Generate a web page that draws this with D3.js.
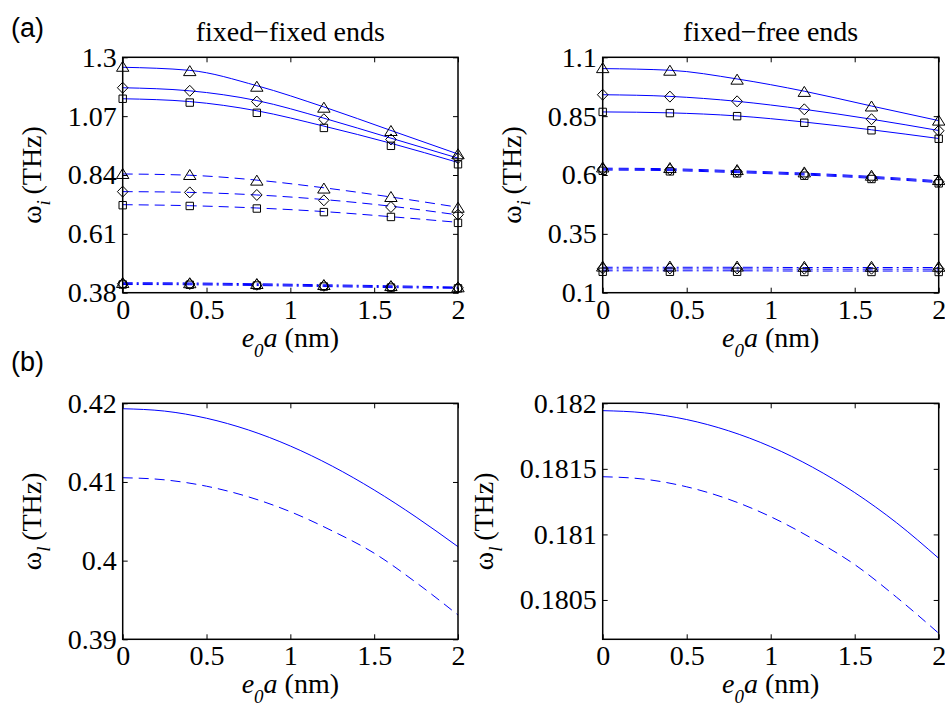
<!DOCTYPE html>
<html>
<head>
<meta charset="utf-8">
<script src="https://cdn.jsdelivr.net/npm/d3@7"></script>
<style>
  body { margin: 0; background: #fff; }
  text { font-family: "Liberation Serif", "Times New Roman", serif; }
</style>
</head>
<body>
<script>
    // x positions
    let xMarks = [0, 0.4, 0.8, 1.2, 1.6, 2];
    let xFine = [0, 0.25, 0.5, 0.75, 1, 1.25, 1.5, 1.75, 2];
    let xTicks = [0, 0.5, 1, 1.5, 2];
    let xTickLabels = ["0", "0.5", "1", "1.5", "2"];

    // (a) fixed-fixed: lines (theory) and markers (simulation)
    let ffSolidTri = [1.261, 1.249, 1.189, 1.106, 1.014, 0.922];
    let ffSolidDia = [1.181, 1.169, 1.131, 1.062, 0.984, 0.906];
    let ffSolidSq  = [1.138, 1.127, 1.091, 1.031, 0.964, 0.889];
    let ffDashTri  = [0.844, 0.839, 0.820, 0.790, 0.754, 0.714];
    let ffDashDia  = [0.775, 0.772, 0.762, 0.744, 0.718, 0.684];
    let ffDashSq   = [0.724, 0.720, 0.711, 0.697, 0.677, 0.655];
    let ffDotTri   = [0.419, 0.418, 0.415, 0.411, 0.407, 0.402];
    let ffDotDia   = [0.4155, 0.4145, 0.4115, 0.4075, 0.4035, 0.3995];
    let ffDotSq    = [0.412, 0.411, 0.408, 0.404, 0.400, 0.397];

    let ffMarkSolidTri = [1.263, 1.246, 1.185, 1.103, 1.012, 0.921];
    let ffMarkSolidDia = [1.181, 1.169, 1.127, 1.058, 0.979, 0.906];
    let ffMarkSolidSq  = [1.138, 1.123, 1.083, 1.024, 0.954, 0.882];
    let ffMarkDashTri  = [0.844, 0.840, 0.818, 0.787, 0.754, 0.712];
    let ffMarkDashDia  = [0.775, 0.772, 0.762, 0.741, 0.715, 0.685];
    let ffMarkDashSq   = [0.722, 0.719, 0.709, 0.695, 0.676, 0.653];
    let ffMarkDotTri   = [0.418, 0.417, 0.414, 0.410, 0.406, 0.401];
    let ffMarkDotDia   = [0.415, 0.414, 0.411, 0.407, 0.403, 0.399];
    let ffMarkDotSq    = [0.412, 0.411, 0.408, 0.404, 0.400, 0.397];

    let ffYTicks = [0.38, 0.61, 0.84, 1.07, 1.3];
    let ffYTickLabels = ["0.38", "0.61", "0.84", "1.07", "1.3"];

    // (a) fixed-free
    let frSolidTri = [1.052, 1.045, 1.008, 0.956, 0.893, 0.831];
    let frSolidDia = [0.941, 0.934, 0.913, 0.879, 0.837, 0.789];
    let frSolidSq  = [0.868, 0.864, 0.851, 0.825, 0.792, 0.755];
    let frDashTri  = [0.629, 0.6265, 0.618, 0.608, 0.594, 0.5755];
    let frDashDia  = [0.625, 0.6225, 0.614, 0.604, 0.590, 0.5715];
    let frDashSq   = [0.621, 0.6185, 0.610, 0.600, 0.586, 0.5675];
    let frDotTri   = [0.208, 0.208, 0.208, 0.207, 0.207, 0.207];
    let frDotDia   = [0.201, 0.201, 0.201, 0.200, 0.200, 0.200];
    let frDotSq    = [0.193, 0.193, 0.193, 0.192, 0.192, 0.192];

    let frMarkSolidTri = [1.054, 1.043, 1.005, 0.953, 0.891, 0.831];
    let frMarkSolidDia = [0.941, 0.933, 0.913, 0.879, 0.837, 0.788];
    let frMarkSolidSq  = [0.868, 0.863, 0.850, 0.822, 0.790, 0.754];
    let frMarkDashTri  = [0.632, 0.6295, 0.621, 0.611, 0.597, 0.5785];
    let frMarkDashDia  = [0.625, 0.6225, 0.614, 0.604, 0.590, 0.5715];
    let frMarkDashSq   = [0.618, 0.6155, 0.607, 0.597, 0.583, 0.5645];
    let frMarkDotTri   = [0.211, 0.211, 0.211, 0.210, 0.210, 0.210];
    let frMarkDotDia   = [0.203, 0.203, 0.203, 0.202, 0.202, 0.202];
    let frMarkDotSq    = [0.189, 0.189, 0.189, 0.188, 0.188, 0.188];

    let frYTicks = [0.1, 0.35, 0.6, 0.85, 1.1];
    let frYTickLabels = ["0.1", "0.35", "0.6", "0.85", "1.1"];

    // (b) lowest frequency
    let ffLowSolid = [0.41931, 0.41901, 0.41810, 0.41661, 0.41457, 0.41201, 0.40898, 0.40554, 0.40177];
    let ffLowDash  = [0.41054, 0.41027, 0.40946, 0.40811, 0.40622, 0.40378, 0.40095, 0.39722, 0.39309];
    let frLowSolid = [0.181944, 0.181927, 0.181876, 0.18179, 0.181669, 0.181512, 0.181319, 0.181088, 0.180818];
    let frLowDash  = [0.181440, 0.181421, 0.181363, 0.181268, 0.181135, 0.180966, 0.18077, 0.18052, 0.180246];

    let ffLowYTicks = [0.39, 0.40, 0.41, 0.42];
    let ffLowYTickLabels = ["0.39", "0.4", "0.41", "0.42"];
    let frLowYTicks = [0.1805, 0.181, 0.1815, 0.182];
    let frLowYTickLabels = ["0.1805", "0.181", "0.1815", "0.182"];

    let W = 945, H = 709;
    let blue = "#0000ff";
    let dashes = { solid: null, dash: "10,6", dot: "10,4,2,4" };

    let svg = d3.select("body").append("svg")
        .attr("width", W).attr("height", H);
    svg.append("rect").attr("width", W).attr("height", H).attr("fill", "#fff");

    // marker shapes
    function markerPath(type, cx, cy) {
        if (type === "tri") return `M${cx},${cy - 5.5}L${cx + 6.2},${cy + 4.5}L${cx - 6.2},${cy + 4.5}Z`;
        if (type === "dia") return `M${cx},${cy - 5.5}L${cx + 5.3},${cy}L${cx},${cy + 5.5}L${cx - 5.3},${cy}Z`;
        return `M${cx - 3.7},${cy - 3.7}h7.4v7.4h-7.4Z`;
    }

    function panel(cfg) {
        let x = d3.scaleLinear().domain([0, 2]).range([cfg.left, cfg.right]);
        let y = d3.scaleLinear().domain(cfg.yDomain).range([cfg.bottom, cfg.top]);
        let g = svg.append("g");

        let line = d3.line().curve(d3.curveMonotoneX);

        cfg.lines.forEach(s => {
            g.append("path")
                .attr("d", line(s.xs.map((v, i) => [x(v), y(s.ys[i])])))
                .attr("fill", "none")
                .attr("stroke", blue)
                .attr("stroke-width", 1)
                .attr("stroke-dasharray", dashes[s.style]);
        });

        (cfg.marks || []).forEach(m => {
            g.selectAll(null)
                .data(m.ys)
                .enter()
                .append("path")
                .attr("d", (d, i) => markerPath(m.type, x(xMarks[i]), y(d)))
                .attr("fill", "none")
                .attr("stroke", "#000")
                .attr("stroke-width", 1);
        });

        // axes with inward ticks
        let fmtY = (d, i) => cfg.yLabels[i];
        let fmtX = (d, i) => xTickLabels[i];
        let ax = [
            [d3.axisLeft(y).tickValues(cfg.yTicks).tickFormat(fmtY), `translate(${cfg.left},0)`],
            [d3.axisRight(y).tickValues(cfg.yTicks).tickFormat(""), `translate(${cfg.right},0)`],
            [d3.axisBottom(x).tickValues(xTicks).tickFormat(fmtX), `translate(0,${cfg.bottom})`],
            [d3.axisTop(x).tickValues(xTicks).tickFormat(""), `translate(0,${cfg.top})`]
        ];
        ax.forEach(([a, t]) => {
            let ag = g.append("g").attr("transform", t)
                .call(a.tickSize(-5).tickPadding(6));
            ag.select(".domain").remove();
            ag.selectAll("line").attr("stroke", "#000").attr("stroke-width", 1);
            ag.selectAll("text")
                .attr("fill", "#000")
                .style("font-size", "28px")
                .style("font-family", '"Liberation Serif", "Times New Roman", serif');
        });

        g.append("rect")
            .attr("x", cfg.left).attr("y", cfg.top)
            .attr("width", cfg.right - cfg.left).attr("height", cfg.bottom - cfg.top)
            .attr("fill", "none").attr("stroke", "#000").attr("stroke-width", 1.5);

        // x label: e0a (nm)
        let xl = g.append("text")
            .attr("x", (cfg.left + cfg.right) / 2)
            .attr("y", cfg.bottom + 54)
            .attr("text-anchor", "middle")
            .style("font-size", "28px");
        xl.append("tspan").attr("font-style", "italic").text("e");
        xl.append("tspan").attr("font-style", "italic").attr("dy", 10).style("font-size", "19px").text("0");
        xl.append("tspan").attr("font-style", "italic").attr("dy", -10).text("a");
        xl.append("tspan").text(" (nm)");

        // y label
        let yl = g.append("text")
            .attr("transform", `translate(${cfg.yLabelX},${(cfg.top + cfg.bottom) / 2}) rotate(-90)`)
            .attr("text-anchor", "middle")
            .style("font-size", "28px");
        yl.append("tspan").text("ω");
        yl.append("tspan").attr("font-style", "italic").attr("dy", 9).style("font-size", "19px").text(cfg.sub);
        yl.append("tspan").attr("dy", -9).text("\u2009(THz)");

        if (cfg.title) {
            g.append("text")
                .attr("x", (cfg.left + cfg.right) / 2)
                .attr("y", 41)
                .attr("text-anchor", "middle")
                .style("font-size", "28px")
                .text(cfg.title);
        }
    }

    let L1 = 122.7, R1 = 458, L2 = 602.7, R2 = 938.7;
    let T1 = 57.3, B1 = 292.7, T2 = 403.3, B2 = 639.3;

    panel({
        left: L1, right: R1, top: T1, bottom: B1,
        yDomain: [0.38, 1.3], yTicks: ffYTicks, yLabels: ffYTickLabels,
        yLabelX: 41, sub: "i", title: "fixed\u2212fixed ends",
        lines: [
            { xs: xMarks, ys: ffSolidTri, style: "solid" },
            { xs: xMarks, ys: ffSolidDia, style: "solid" },
            { xs: xMarks, ys: ffSolidSq, style: "solid" },
            { xs: xMarks, ys: ffDashTri, style: "dash" },
            { xs: xMarks, ys: ffDashDia, style: "dash" },
            { xs: xMarks, ys: ffDashSq, style: "dash" },
            { xs: xMarks, ys: ffDotTri, style: "dot" },
            { xs: xMarks, ys: ffDotDia, style: "dot" },
            { xs: xMarks, ys: ffDotSq, style: "dot" }
        ],
        marks: [
            { type: "tri", ys: ffMarkSolidTri }, { type: "dia", ys: ffMarkSolidDia }, { type: "sq", ys: ffMarkSolidSq },
            { type: "tri", ys: ffMarkDashTri }, { type: "dia", ys: ffMarkDashDia }, { type: "sq", ys: ffMarkDashSq },
            { type: "tri", ys: ffMarkDotTri }, { type: "dia", ys: ffMarkDotDia }, { type: "sq", ys: ffMarkDotSq }
        ]
    });

    panel({
        left: L2, right: R2, top: T1, bottom: B1,
        yDomain: [0.1, 1.1], yTicks: frYTicks, yLabels: frYTickLabels,
        yLabelX: 521, sub: "i", title: "fixed\u2212free ends",
        lines: [
            { xs: xMarks, ys: frSolidTri, style: "solid" },
            { xs: xMarks, ys: frSolidDia, style: "solid" },
            { xs: xMarks, ys: frSolidSq, style: "solid" },
            { xs: xMarks, ys: frDashTri, style: "dash" },
            { xs: xMarks, ys: frDashDia, style: "dash" },
            { xs: xMarks, ys: frDashSq, style: "dash" },
            { xs: xMarks, ys: frDotTri, style: "dot" },
            { xs: xMarks, ys: frDotDia, style: "dot" },
            { xs: xMarks, ys: frDotSq, style: "dot" }
        ],
        marks: [
            { type: "tri", ys: frMarkSolidTri }, { type: "dia", ys: frMarkSolidDia }, { type: "sq", ys: frMarkSolidSq },
            { type: "tri", ys: frMarkDashTri }, { type: "dia", ys: frMarkDashDia }, { type: "sq", ys: frMarkDashSq },
            { type: "tri", ys: frMarkDotTri }, { type: "dia", ys: frMarkDotDia }, { type: "sq", ys: frMarkDotSq }
        ]
    });

    panel({
        left: L1, right: R1, top: T2, bottom: B2,
        yDomain: [0.39, 0.42], yTicks: ffLowYTicks, yLabels: ffLowYTickLabels,
        yLabelX: 41, sub: "l",
        lines: [
            { xs: xFine, ys: ffLowSolid, style: "solid" },
            { xs: xFine, ys: ffLowDash, style: "dash" }
        ]
    });

    panel({
        left: L2, right: R2, top: T2, bottom: B2,
        yDomain: [0.1802, 0.182], yTicks: frLowYTicks, yLabels: frLowYTickLabels,
        yLabelX: 493, sub: "l",
        lines: [
            { xs: xFine, ys: frLowSolid, style: "solid" },
            { xs: xFine, ys: frLowDash, style: "dash" }
        ]
    });

    // panel letters
    [["(a)", 37], ["(b)", 371]].forEach(([t, yy]) => {
        svg.append("text").attr("x", 11).attr("y", yy)
            .style("font-family", '"Liberation Sans", Arial, sans-serif')
            .style("font-size", "27px")
            .text(t);
    });
</script>
</body>
</html>
